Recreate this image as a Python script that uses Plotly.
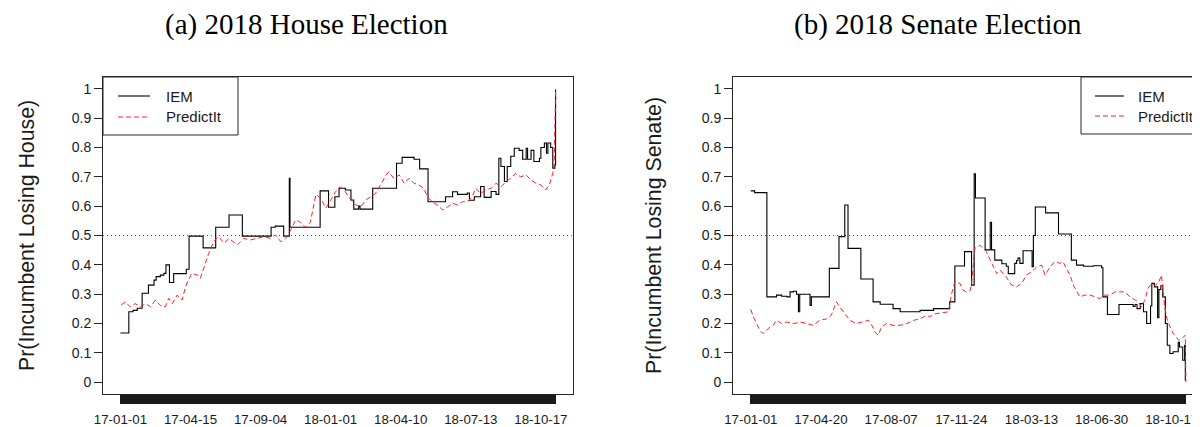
import plotly.graph_objects as go

# ---------------- data ----------------
# House market (x = observation index)
house_n = 622
house_tick_idx = [0, 100, 200, 300, 400, 500, 600]
house_tick_labels = ["17-01-01", "17-04-15", "17-09-04", "18-01-01", "18-04-10", "18-07-13", "18-10-17"]

house_iem_idx = [0, 12, 18, 24, 31, 40, 48, 51, 57, 62, 65, 70, 76, 94, 98, 118, 136, 155, 174, 215, 221,
                 233, 241, 242, 285, 297, 306, 312, 321, 329, 333, 340, 342, 360, 394, 402, 419, 427, 439,
                 464, 474, 481, 495, 498, 505, 514, 519, 529, 536, 540, 543, 548, 552, 557, 562, 569, 574,
                 579, 581, 586, 590, 598, 600, 605, 608, 610, 614, 617, 620, 621]
house_iem_val = [0.168, 0.240, 0.245, 0.252, 0.303, 0.331, 0.348, 0.360, 0.365, 0.371, 0.400, 0.340, 0.370,
                 0.385, 0.498, 0.458, 0.528, 0.570, 0.498, 0.528, 0.532, 0.498, 0.695, 0.528, 0.652, 0.596,
                 0.632, 0.661, 0.655, 0.621, 0.590, 0.600, 0.590, 0.661, 0.746, 0.766, 0.760, 0.727, 0.615,
                 0.632, 0.649, 0.640, 0.645, 0.620, 0.632, 0.667, 0.630, 0.650, 0.640, 0.763, 0.735, 0.684,
                 0.735, 0.770, 0.797, 0.790, 0.760, 0.797, 0.760, 0.790, 0.752, 0.763, 0.800, 0.815, 0.780,
                 0.815, 0.800, 0.729, 0.740, 0.997]

house_pi_idx = [1, 7, 14, 21, 29, 36, 43, 50, 57, 64, 69, 74, 81, 88, 93, 96, 102, 110, 114, 121, 126, 133,
                140, 148, 155, 167, 176, 186, 195, 205, 214, 221, 229, 236, 243, 250, 257, 264, 271, 279, 286,
                293, 300, 307, 314, 321, 329, 336, 343, 350, 357, 364, 371, 379, 383, 390, 398, 405, 412, 419,
                426, 433, 438, 445, 452, 460, 467, 474, 481, 488, 495, 502, 507, 514, 521, 529, 536, 543, 550,
                557, 564, 571, 579, 586, 593, 600, 607, 612, 617, 619, 621]
house_pi_val = [0.263, 0.274, 0.257, 0.268, 0.257, 0.268, 0.257, 0.280, 0.262, 0.257, 0.286, 0.268, 0.297,
                0.280, 0.325, 0.343, 0.371, 0.365, 0.354, 0.405, 0.439, 0.479, 0.496, 0.474, 0.490, 0.468,
                0.490, 0.485, 0.490, 0.496, 0.490, 0.502, 0.479, 0.490, 0.519, 0.553, 0.545, 0.527, 0.545,
                0.640, 0.627, 0.593, 0.620, 0.649, 0.666, 0.649, 0.621, 0.604, 0.598, 0.621, 0.632, 0.643,
                0.672, 0.706, 0.717, 0.695, 0.706, 0.678, 0.695, 0.678, 0.672, 0.661, 0.632, 0.615, 0.604,
                0.587, 0.598, 0.610, 0.604, 0.615, 0.615, 0.632, 0.661, 0.643, 0.655, 0.661, 0.678, 0.666,
                0.683, 0.695, 0.712, 0.700, 0.706, 0.689, 0.678, 0.672, 0.655, 0.672, 0.712, 0.746, 0.996]

# Senate market (x = day index from 17-01-01)
senate_n = 676
senate_tick_idx = [0, 109, 218, 327, 436, 545, 654]
senate_tick_labels = ["17-01-01", "17-04-20", "17-08-07", "17-11-24", "18-03-13", "18-06-30", "18-10-17"]

senate_iem_idx = [0, 6, 25, 40, 48, 56, 61, 66, 71, 74, 76, 92, 94, 122, 137, 146, 151, 171, 190, 201, 221,
                  232, 263, 284, 309, 317, 332, 343, 347, 349, 364, 372, 374, 379, 390, 397, 400, 410, 413,
                  415, 418, 423, 437, 439, 442, 458, 478, 498, 506, 517, 532, 545, 547, 554, 572, 594, 597,
                  600, 605, 610, 615, 621, 623, 627, 632, 634, 637, 640, 644, 647, 651, 656, 661, 664, 666,
                  671, 674, 675]
senate_iem_val = [0.652, 0.646, 0.291, 0.297, 0.293, 0.291, 0.308, 0.310, 0.300, 0.240, 0.300, 0.262, 0.291,
                  0.388, 0.496, 0.604, 0.456, 0.352, 0.274, 0.266, 0.251, 0.240, 0.245, 0.251, 0.274, 0.396,
                  0.445, 0.331, 0.710, 0.628, 0.451, 0.545, 0.451, 0.416, 0.404, 0.395, 0.370, 0.405, 0.415,
                  0.423, 0.405, 0.448, 0.394, 0.500, 0.597, 0.577, 0.505, 0.416, 0.399, 0.395, 0.397, 0.390,
                  0.291, 0.231, 0.265, 0.258, 0.265, 0.251, 0.268, 0.240, 0.200, 0.260, 0.337, 0.325, 0.220,
                  0.316, 0.329, 0.291, 0.200, 0.126, 0.098, 0.104, 0.104, 0.136, 0.120, 0.075, 0.126, 0.005]

senate_pi_idx = [0, 4, 9, 14, 19, 25, 30, 35, 40, 48, 56, 66, 77, 87, 97, 107, 118, 125, 133, 138, 146, 154,
                 164, 175, 183, 188, 193, 198, 203, 211, 221, 232, 242, 253, 263, 273, 278, 284, 294, 307,
                 312, 317, 325, 330, 335, 341, 343, 348, 356, 361, 366, 372, 377, 382, 387, 395, 405, 413,
                 421, 428, 436, 444, 452, 457, 465, 472, 480, 485, 490, 496, 501, 506, 511, 519, 527, 535,
                 542, 550, 558, 566, 573, 581, 589, 597, 602, 607, 612, 617, 623, 628, 633, 638, 643, 647,
                 651, 656, 661, 665, 670, 675, 676]
senate_pi_val = [0.248, 0.223, 0.200, 0.177, 0.166, 0.177, 0.189, 0.194, 0.211, 0.200, 0.205, 0.200, 0.205,
                 0.200, 0.194, 0.211, 0.216, 0.228, 0.274, 0.257, 0.234, 0.211, 0.200, 0.205, 0.211, 0.194,
                 0.171, 0.160, 0.188, 0.200, 0.194, 0.194, 0.200, 0.211, 0.216, 0.228, 0.223, 0.232, 0.235,
                 0.240, 0.302, 0.342, 0.337, 0.313, 0.308, 0.313, 0.337, 0.456, 0.467, 0.456, 0.445, 0.416,
                 0.394, 0.370, 0.382, 0.365, 0.331, 0.325, 0.337, 0.365, 0.376, 0.393, 0.399, 0.365, 0.393,
                 0.411, 0.405, 0.411, 0.388, 0.365, 0.331, 0.313, 0.291, 0.297, 0.297, 0.291, 0.285, 0.297,
                 0.297, 0.308, 0.308, 0.308, 0.291, 0.279, 0.274, 0.257, 0.279, 0.320, 0.337, 0.331, 0.337,
                 0.365, 0.257, 0.211, 0.188, 0.166, 0.154, 0.143, 0.150, 0.160, 0.0]

y_ticks = [0, 0.1, 0.2, 0.3, 0.4, 0.5, 0.6, 0.7, 0.8, 0.9, 1]
y_tick_labels = ["0", "0.1", "0.2", "0.3", "0.4", "0.5", "0.6", "0.7", "0.8", "0.9", "1"]
series_names = ["IEM", "PredictIt"]

# ---------------- figure ----------------
# page body has an 8px margin: the figure is shrunk and all page pixels shifted by it
OFF = 8
W, H = 1200 - OFF, 427 - OFF
SANS = "Liberation Sans, Arial, sans-serif"
SERIF = "Liberation Serif, Times New Roman, serif"
AX = "#262626"
TXT = "#1a1a1a"
IEM_LINE = dict(color="black", width=1.1, shape="hv")
PI_LINE = dict(color="#ff2020", width=1, dash="5px,3px")


def px_x(p):
    return (p - OFF) / W


def px_y(p):
    return (H - (p - OFF)) / H


fig = go.Figure()
fig.add_trace(go.Scatter(x=house_iem_idx, y=house_iem_val, mode="lines", name=series_names[0],
                         line=IEM_LINE, xaxis="x", yaxis="y"))
fig.add_trace(go.Scatter(x=house_pi_idx, y=house_pi_val, mode="lines", name=series_names[1],
                         line=PI_LINE, xaxis="x", yaxis="y"))
fig.add_trace(go.Scatter(x=senate_iem_idx, y=senate_iem_val, mode="lines", name=series_names[0],
                         line=IEM_LINE, xaxis="x2", yaxis="y2"))
fig.add_trace(go.Scatter(x=senate_pi_idx, y=senate_pi_val, mode="lines", name=series_names[1],
                         line=PI_LINE, xaxis="x2", yaxis="y2"))


def xticks(n, idx, labels):
    vals = list(range(n))
    txt = [""] * n
    for i, lab in zip(idx, labels):
        txt[i] = lab
    return vals, txt


hv, ht = xticks(house_n, house_tick_idx, house_tick_labels)
sv, st = xticks(senate_n, senate_tick_idx, senate_tick_labels)

ydom = [px_y(394), px_y(77)]
common_x = dict(showgrid=False, zeroline=False, showline=True, linecolor=AX, linewidth=1,
                ticks="outside", ticklen=9, tickwidth=1, tickcolor="#1a1a1a",
                tickfont=dict(family=SANS, size=13.3, color=TXT), ticklabelstandoff=4,
                tickmode="array", fixedrange=True)
common_y = dict(showgrid=False, zeroline=False, showline=True, linecolor=AX, linewidth=1,
                ticks="outside", ticklen=8, tickwidth=1, tickcolor=AX,
                tickmode="array", tickvals=y_ticks, ticktext=y_tick_labels,
                tickfont=dict(family=SANS, size=14, color=TXT), range=[-0.04, 1.04])

fig.update_layout(
    xaxis=dict(domain=[px_x(103), px_x(573)], range=[-24.84, 645.84], tickvals=hv, ticktext=ht,
               mirror=True, anchor="y", **common_x),
    yaxis=dict(domain=ydom, mirror=True, anchor="x", **common_y),
    xaxis2=dict(domain=[px_x(733), 1.0], range=[-27.65, -27.65 + 467 / 0.6437], tickvals=sv, ticktext=st,
                mirror=True, anchor="y2", **common_x),
    yaxis2=dict(domain=ydom, mirror=False, anchor="x2", **common_y),
)

# 0.5 reference lines
for xr, yr in (("x", "y"), ("x2", "y2")):
    fig.add_shape(type="line", xref=f"{xr} domain", yref=yr, x0=0, x1=1, y0=0.5, y1=0.5,
                  line=dict(color="#555555", width=1, dash="1px,3px"), layer="below")

annotations = [
    dict(text="(a) 2018 House Election", x=px_x(306), y=px_y(25), xref="paper", yref="paper",
         showarrow=False, xanchor="center", yanchor="middle", font=dict(family=SERIF, size=29, color="black")),
    dict(text="(b) 2018 Senate Election", x=px_x(938), y=px_y(25), xref="paper", yref="paper",
         showarrow=False, xanchor="center", yanchor="middle", font=dict(family=SERIF, size=29, color="black")),
    dict(text="Pr(Incumbent Losing House)", x=px_x(27), y=px_y(236), xref="paper", yref="paper",
         showarrow=False, textangle=-90, xanchor="center", yanchor="middle",
         font=dict(family=SANS, size=21.3, color=TXT)),
    dict(text="Pr(Incumbent Losing Senate)", x=px_x(654), y=px_y(236), xref="paper", yref="paper",
         showarrow=False, textangle=-90, xanchor="center", yanchor="middle",
         font=dict(family=SANS, size=21.3, color=TXT)),
]

# legends (R-style boxed legends)
legend_specs = [
    # box left, box right, box top, box bottom, line x0, line x1, text x, row y's
    (103, 238, 77, 135, 118, 150, 166, (96, 117)),
    (1081, 1215, 77, 134, 1095, 1124, 1138, (96, 116)),
]
for bl, br, bt, bb, lx0, lx1, tx, rows in legend_specs:
    fig.add_shape(type="rect", xref="paper", yref="paper", x0=px_x(bl), x1=px_x(br), y0=px_y(bb), y1=px_y(bt),
                  line=dict(color=AX, width=1), fillcolor="white", layer="above")
    for name, line, ry in zip(series_names, (IEM_LINE, PI_LINE), rows):
        fig.add_shape(type="line", xref="paper", yref="paper", x0=px_x(lx0), x1=px_x(lx1),
                      y0=px_y(ry), y1=px_y(ry), layer="above",
                      line=dict(color=line["color"], width=line["width"], dash=line.get("dash", "solid")))
        annotations.append(dict(text=name, x=px_x(tx - 2), y=px_y(ry), xref="paper", yref="paper",
                                showarrow=False, xanchor="left", yanchor="middle",
                                font=dict(family=SANS, size=15, color=TXT)))

fig.update_layout(
    width=W, height=H, annotations=annotations, showlegend=False,
    margin=dict(l=0, r=0, t=0, b=0, autoexpand=False),
    paper_bgcolor="white", plot_bgcolor="white",
)

fig.write_html("out.html")
